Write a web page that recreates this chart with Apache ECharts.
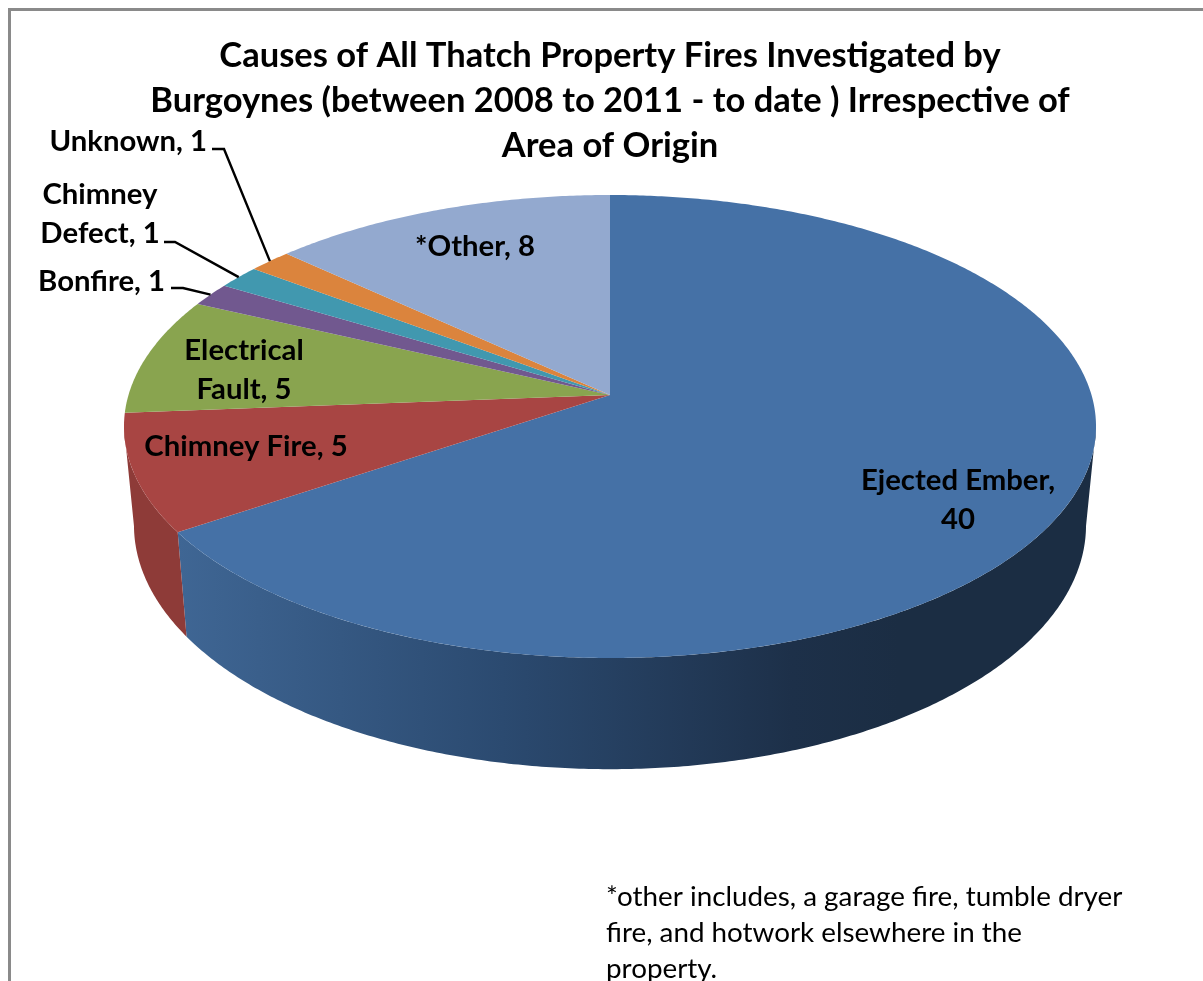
<!DOCTYPE html>
<html>
<head>
<meta charset="utf-8">
<title>Causes of All Thatch Property Fires</title>
<script src="https://cdn.jsdelivr.net/npm/echarts@6/dist/echarts.min.js"></script>
<style>
  html, body { margin: 0; padding: 0; background: #fff; overflow: hidden; }
  #chart { width: 1203px; height: 981px; }
</style>
</head>
<body>
<div id="chart"></div>
<script>
var categories = ['Ejected Ember', 'Chimney Fire', 'Electrical Fault', 'Bonfire', 'Chimney Defect', 'Unknown', '*Other'];
var values = [40, 5, 5, 1, 1, 1, 8];
var titleLines = [
  'Causes of All Thatch Property Fires Investigated by',
  'Burgoynes (between 2008 to 2011 - to date ) Irrespective of',
  'Area of Origin'
];
var noteLines = [
  '*other includes, a garage fire, tumble dryer',
  'fire, and hotwork elsewhere in the',
  'property.'
];

var topColors = ['#4571a6', '#a84543', '#89a44f', '#71588f', '#4198af', '#db843d', '#93a9cf'];
var FONT = 'Lato, "Open Sans", sans-serif';

// how the disc is projected: top face and bottom face of the slab
var TILT = 0.136;
var topFace = { cx: 610, cy: 395, a: 481.5, b: 227.2 };
var lowFace = { cx: 610, cy: 492, a: 471.6, b: 239.5 };
var WALL_FROM = 98, WALL_TO = 262; // part of the wall that faces the viewer, degrees

// label placement, same order as categories
var labelStyle = [
  { x: 958, y: 500, align: 'center', wrap: 'value' },
  { x: 246, y: 447, align: 'center' },
  { x: 244, y: 370, align: 'center', wrap: 'name' },
  { x: 165, y: 282, align: 'right', elbow: [[171, 288], [183, 288]] },
  { x: 100, y: 214, align: 'center', wrap: 'name', elbow: [[164, 242], [175, 242]] },
  { x: 207, y: 142, align: 'right', elbow: [[212, 149], [224, 149]] },
  { x: 475, y: 247, align: 'center' }
];

var total = values.reduce(function (s, v) { return s + v; }, 0);
var starts = [];
values.reduce(function (s, v, i) { starts[i] = s; return s + v; }, 0);

function project(face, deg) {
  var r = deg * Math.PI / 180;
  var u = Math.sin(r), v = Math.cos(r);
  var w = 1 + TILT * v;
  return [face.cx + face.a * u / w, face.cy - face.b * v / w];
}

function arc(face, from, to) {
  var pts = [];
  var n = Math.max(2, Math.ceil((to - from) / 0.5));
  for (var i = 0; i <= n; i++) {
    pts.push(project(face, from + (to - from) * i / n));
  }
  return pts;
}

function sliceAngles(i, value) {
  return [starts[i] / total * 360, (starts[i] + value) / total * 360];
}

function renderWall(params, api) {
  var i = params.dataIndex;
  var ang = sliceAngles(i, api.value(0));
  var from = Math.max(ang[0], WALL_FROM), to = Math.min(ang[1], WALL_TO);
  if (from >= to) return null;
  var pts = arc(topFace, from, to).concat(arc(lowFace, from, to).reverse());
  var fill = i === 0
    ? new echarts.graphic.LinearGradient(178, 0, 900, 0, [
        { offset: 0, color: '#3f6694' },
        { offset: 0.45, color: '#2b4a70' },
        { offset: 0.85, color: '#1d3049' },
        { offset: 1, color: '#1b2d43' }
      ], true)
    : '#8e3b38';
  return { type: 'polygon', shape: { points: pts }, style: { fill: fill } };
}

function renderTop(params, api) {
  var i = params.dataIndex;
  var ang = sliceAngles(i, api.value(0));
  var pts = [[topFace.cx, topFace.cy]].concat(arc(topFace, ang[0], ang[1]));
  return { type: 'polygon', shape: { points: pts }, style: { fill: topColors[i] } };
}

function labelText(i, value) {
  var name = categories[i], wrap = labelStyle[i].wrap;
  if (wrap === 'value') return name + ',\n' + value;
  if (wrap === 'name') return name.replace(' ', '\n') + ', ' + value;
  return name + ', ' + value;
}

function renderLabel(params, api) {
  var i = params.dataIndex, s = labelStyle[i], value = api.value(0);
  var children = [{
    type: 'text',
    style: {
      text: labelText(i, value), x: s.x, y: s.y,
      fill: '#000', font: 'bold 29.3px ' + FONT,
      align: s.align, verticalAlign: 'middle', lineHeight: 39
    }
  }];
  if (s.elbow) {
    var ang = sliceAngles(i, value);
    var end = project(topFace, (ang[0] + ang[1]) / 2);
    children.push({
      type: 'polyline',
      shape: { points: s.elbow.concat([end]) },
      style: { stroke: '#000', lineWidth: 2.4, fill: null }
    });
  }
  return { type: 'group', children: children };
}

var seriesData = values.map(function (v) { return [v]; });

var chart = echarts.init(document.getElementById('chart'));
chart.setOption({
  animation: false,
  backgroundColor: '#fff',
  title: {
    text: titleLines.join('\n'),
    left: 605, top: 28, textAlign: 'center',
    textStyle: { fontFamily: FONT, fontWeight: 'bold', fontSize: 34.5, lineHeight: 45, color: '#000' }
  },
  graphic: [
    {
      type: 'polyline', silent: true,
      shape: { points: [[9.5, 981], [9.5, 9.5], [1203, 9.5]] },
      style: { stroke: '#8a8a8a', lineWidth: 3, fill: null }
    },
    {
      type: 'text', silent: true, x: 606, y: 879,
      style: { text: noteLines.join('\n'), fill: '#000', font: '27.8px ' + FONT, lineHeight: 36 }
    }
  ],
  series: [
    { type: 'custom', coordinateSystem: 'none', z: 1, silent: true, data: seriesData, renderItem: renderWall },
    { type: 'custom', coordinateSystem: 'none', z: 2, silent: true, data: seriesData, renderItem: renderTop },
    { type: 'custom', coordinateSystem: 'none', z: 3, silent: true, data: seriesData, renderItem: renderLabel }
  ]
});
</script>
</body>
</html>
